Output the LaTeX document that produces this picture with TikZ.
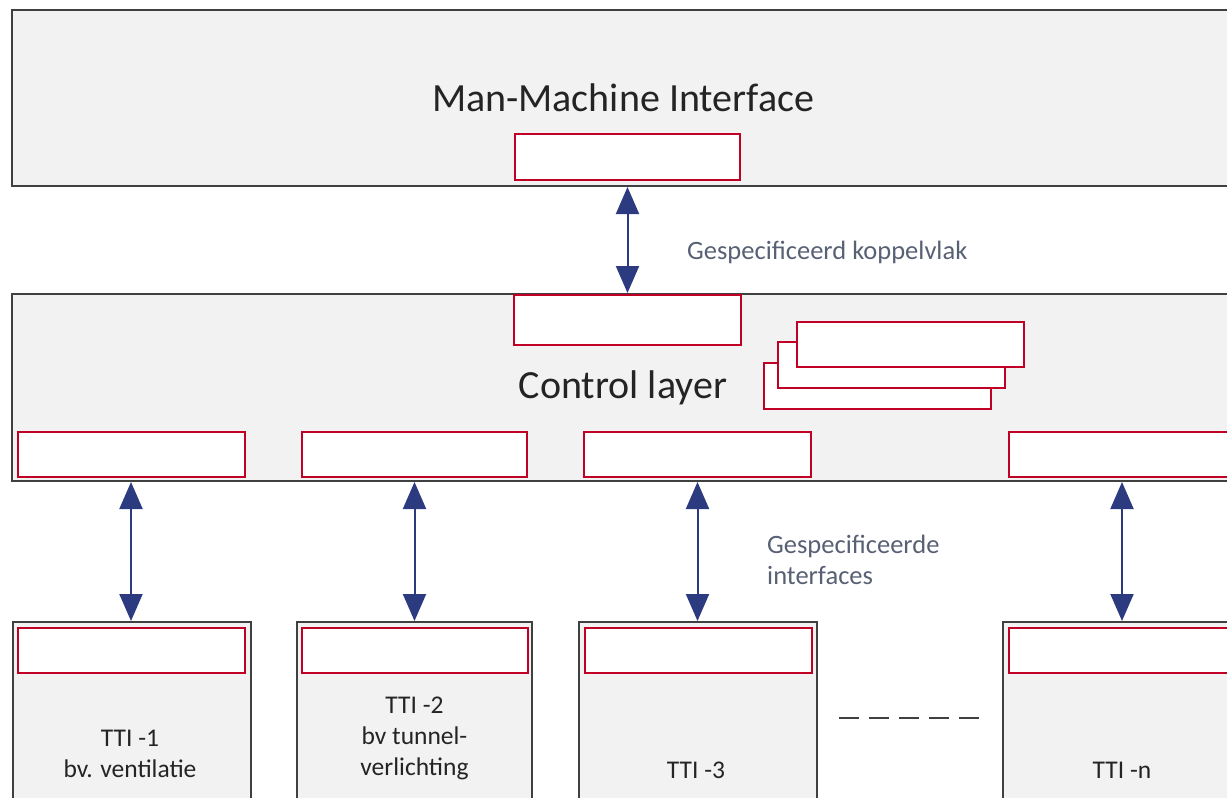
\documentclass[tikz,border=0pt]{standalone}
\usepackage{fontspec}
\setmainfont{Carlito}
\usetikzlibrary{arrows.meta}
\definecolor{bordeau}{RGB}{192,0,36}
\definecolor{grisfonce}{RGB}{64,64,64}
\definecolor{grisclair}{RGB}{242,242,242}
\definecolor{bleufleche}{RGB}{44,58,128}
\definecolor{gristexte}{RGB}{88,96,116}
\definecolor{noirtexte}{RGB}{36,36,36}

\begin{document}
\begin{tikzpicture}[x=1pt,y=-1pt]
    % Styles
    \tikzstyle{couche}=[draw=grisfonce,line width=2pt,fill=grisclair,inner sep=0pt,text=noirtexte,font=\fontsize{40}{48}\selectfont]
    \tikzstyle{tti}=[draw=grisfonce,line width=2pt,fill=grisclair,inner sep=0pt,minimum height=188pt]
    \tikzstyle{cadre}=[draw=bordeau,line width=2pt,fill=white,inner sep=0pt,minimum width=\LargeurCadre pt,minimum height=\HauteurCadre pt]
    \tikzstyle{fleche}=[{Triangle[width=23pt,length=27pt]}-{Triangle[width=23pt,length=27pt]},line width=2pt,draw=bleufleche,color=bleufleche]
    \tikzstyle{libelle}=[text=gristexte,font=\fontsize{26.5}{31}\selectfont,inner sep=0pt]
    \tikzstyle{nom}=[text=noirtexte,font=\fontsize{25.5}{31}\selectfont,align=center,inner sep=0pt]
    % Dimensions
    \def\LargeurCadre{227}
    \def\HauteurCadre{45}
    \clip (0,0) rectangle (1227,798);
    \useasboundingbox (0,0) rectangle (1227,798);
    % Couches
    \node[couche,minimum width=1222pt,minimum height=176pt] (mmi) at (623,98) {Man-Machine Interface};
    \node[couche,minimum width=1222pt,minimum height=187pt] (cl) at (623,387.5) {Control layer};
    \node[tti,minimum width=238pt] (tti1) at (132,716) {};
    \node[tti,minimum width=235pt] (tti2) at (414.5,716) {};
    \node[tti,minimum width=238pt] (tti3) at (698,716) {};
    \node[tti,minimum width=238pt] (ttin) at (1122,716) {};
    % Koppelvlakken
    \node[cadre,minimum width=225pt,minimum height=46pt] (km) at (627.5,157) {};
    \node[cadre,minimum height=50pt] (kc) at (627,320) {};
    \node[cadre,minimum height=46pt] (ks3) at (877.5,386) {};
    \node[cadre,minimum height=46pt] (ks2) at (891.5,364.5) {};
    \node[cadre,minimum height=45pt] (ks1) at (910.5,344) {};
    \node[cadre] (kc1) at (131,454.5) {};
    \node[cadre,minimum width=225pt] (kc2) at (414.5,454.5) {};
    \node[cadre] (kc3) at (697.5,454.5) {};
    \node[cadre] (kcn) at (1122,454.5) {};
    \node[cadre] (kt1) at (131.5,650.5) {};
    \node[cadre,minimum width=226pt] (kt2) at (415,650.5) {};
    \node[cadre] (kt3) at (698,650.5) {};
    \node[cadre] (ktn) at (1122.5,650.5) {};
    % Teksten
    \node[nom] (n1) at (130,754) {TTI -1\\bv. ventilatie};
    \node[nom] (n2) at (414.5,738) {TTI -2\\bv tunnel-\\verlichting};
    \node[nom] (n3) at (696,770) {TTI -3};
    \node[nom] (nn) at (1122,770) {TTI -n};
    \node[libelle,anchor=west] (l1) at (687,252) {Gespecificeerd koppelvlak};
    \node[libelle,anchor=west,align=left] (l2) at (767,560) {Gespecificeerde\\interfaces};
    \coordinate (d1) at (839,718);
    \coordinate (d2) at (979,718);
    \draw[grisfonce,line width=2pt,dash pattern=on 20pt off 10pt] (d1)--(d2);
    % Pijlen
    \draw[fleche] (km |- mmi.south)--(km |- cl.north) ;
    \draw[fleche] (kc1 |- cl.south)--(kc1 |- tti1.north) ;
    \draw[fleche] (kc2 |- cl.south)--(kc2 |- tti2.north) ;
    \draw[fleche] (kc3 |- cl.south)--(kc3 |- tti3.north) ;
    \draw[fleche] (kcn |- cl.south)--(kcn |- ttin.north) ;
\end{tikzpicture}
\end{document}
